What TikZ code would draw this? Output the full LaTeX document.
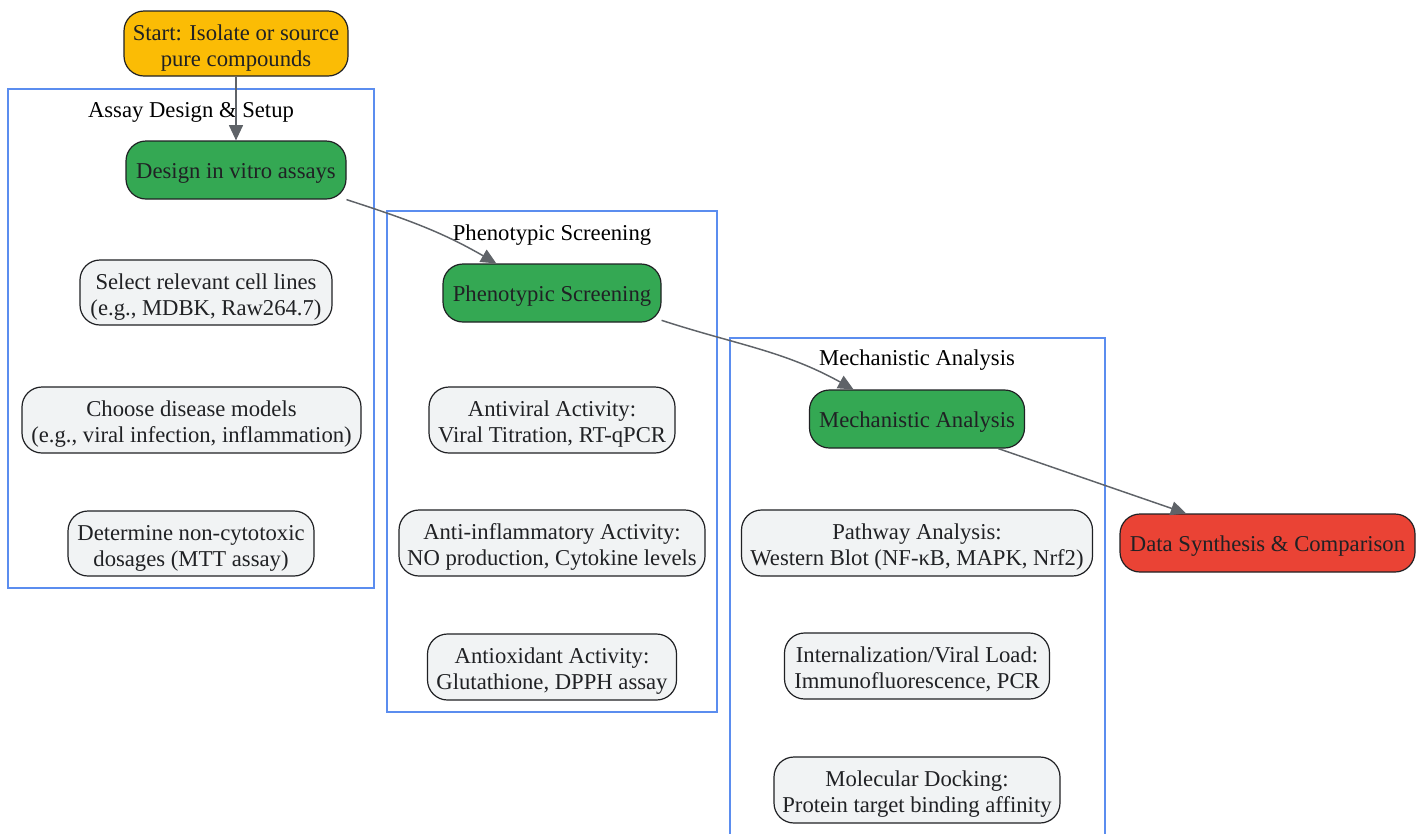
\documentclass[tikz,border=0pt]{standalone}
\usepackage{fontspec}
\setmainfont{Liberation Serif}
\usetikzlibrary{arrows.meta}
\definecolor{cyellow}{HTML}{FBBC05}
\definecolor{cgreen}{HTML}{34A853}
\definecolor{cred}{HTML}{EA4335}
\definecolor{clight}{HTML}{F1F3F4}
\definecolor{cborder}{HTML}{202124}
\definecolor{ctext}{HTML}{202124}
\definecolor{cblue}{HTML}{5B8DEF}
\definecolor{carrow}{HTML}{5F6368}
\newcommand\mytop{\rule{0pt}{16pt}}
\newcommand\mytopb{\rule{0pt}{18.5pt}}
\newcommand\mybot{\rule[-4pt]{0pt}{4pt}}
\tikzset{
  sz/.style 2 args={minimum width=#1*0.75pt, minimum height=#2*0.75pt},
  box/.style={draw=cborder, line width=0.9pt, rounded corners=15pt, inner sep=0pt,
    align=center, text=ctext, font={\fontsize{17pt}{19.5pt}\selectfont}},
  startbox/.style={box, fill=cyellow},
  greenbox/.style={box, fill=cgreen},
  redbox/.style={box, fill=cred},
  lightbox/.style={box, fill=clight},
  cluster/.style={draw=cblue, line width=1.1pt, inner sep=0pt},
  ctitle/.style={inner sep=0pt, anchor=base, text=black, font={\fontsize{17pt}{19.5pt}\selectfont}},
  arr/.style={draw=carrow, line width=1.1pt, -{Triangle[length=11.5pt,width=10.5pt]}},
}
\begin{document}
\begin{tikzpicture}[x=0.75pt,y=-0.75pt]
\useasboundingbox[fill=white] (0,0) rectangle (1423,833);
% clusters
\node[cluster, sz={366}{499}] (c1) at (191,338.5) {};
\node[ctitle] (t1) at (191,117.5) {Assay Design \& Setup};
\node[cluster, sz={330}{501}] (c2) at (552,461.5) {};
\node[ctitle] (t2) at (552,240.5) {Phenotypic Screening};
\node[cluster, sz={375}{512}] (c3) at (917.5,594) {};
\node[ctitle] (t3) at (917,365.5) {Mechanistic Analysis};
% nodes
\node[startbox, sz={224}{65}] (start) at (236,43.5) {\mytopb Start: Isolate or source\\pure compounds\mybot};
\node[greenbox, sz={220}{58}] (design) at (236,170) {\mytop Design in vitro assays\mybot};
\node[lightbox, sz={252}{65}] (cells) at (206,292.5) {\mytopb Select relevant cell lines\\(e.g., MDBK, Raw264.7)\mybot};
\node[lightbox, sz={339}{66}] (models) at (191.5,420) {\mytopb Choose disease models\\(e.g., viral infection, inflammation)\mybot};
\node[lightbox, sz={246}{65}] (dose) at (191,543.5) {\mytopb Determine non-cytotoxic\\dosages (MTT assay)\mybot};
\node[greenbox, sz={218}{58}] (pheno) at (552,293) {\mytop Phenotypic Screening\mybot};
\node[lightbox, sz={246}{66}] (antiviral) at (552,420) {\mytopb Antiviral Activity:\\Viral Titration, RT-qPCR\mybot};
\node[lightbox, sz={306}{66}] (antiinf) at (552,543) {\mytopb Anti-inflammatory Activity:\\NO production, Cytokine levels\mybot};
\node[lightbox, sz={249}{66}] (antiox) at (552,667) {\mytopb Antioxidant Activity:\\Glutathione, DPPH assay\mybot};
\node[greenbox, sz={215}{58}] (mech) at (917,419) {\mytop Mechanistic Analysis\mybot};
\node[lightbox, sz={351}{66}] (pathway) at (917,543) {\mytopb Pathway Analysis:\\Western Blot (NF-κB, MAPK, Nrf2)\mybot};
\node[lightbox, sz={265}{66}] (intern) at (917,666) {\mytopb Internalization/Viral Load:\\Immunofluorescence, PCR\mybot};
\node[lightbox, sz={286}{66}] (dock) at (917,790) {\mytopb Molecular Docking:\\Protein target binding affinity\mybot};
\node[redbox, sz={295}{58}] (data) at (1267.5,543) {\mytop Data Synthesis \& Comparison\mybot};
% connectors
\draw[arr] (start) -- (design);
\draw[arr] (design.-15) to[out=-18,in=150] (pheno.152);
\draw[arr] (pheno.-14.5) to[out=-18,in=151] (mech.155);
\draw[arr] (mech.-20) to[out=-19,in=161] (data.160.5);
\end{tikzpicture}
\end{document}
